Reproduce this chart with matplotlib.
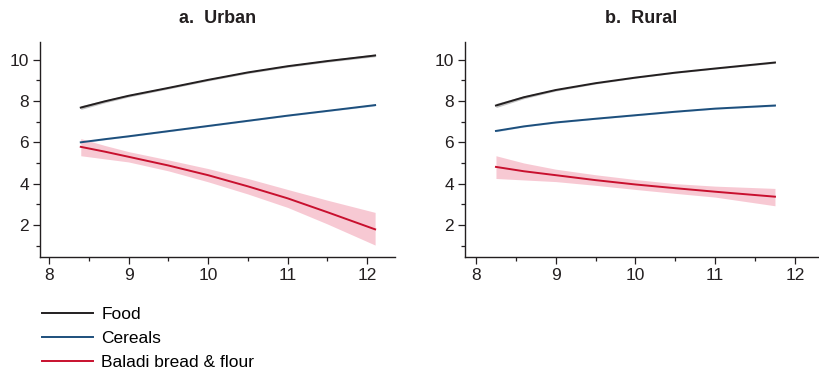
import numpy as np
import matplotlib
matplotlib.use("Agg")
import matplotlib.pyplot as plt
from matplotlib.ticker import MultipleLocator

plt.rcParams['font.family'] = ['Liberation Sans', 'DejaVu Sans']

BLACK = "#231f20"
BLUE = "#1d4f7c"
RED = "#c8102e"
PINK = "#f7c3cf"
GREY_BAND = "#9a9a9a"
BLUE_BAND = "#8fb3d9"

labels = ["Food", "Cereals", "Baladi bread & flour"]

# Panel a: Urban
urban_x = [8.4, 8.7, 9.0, 9.5, 10.0, 10.5, 11.0, 11.5, 12.1]
urban_food = [7.68, 7.98, 8.25, 8.63, 9.02, 9.38, 9.68, 9.93, 10.20]
urban_food_lo = [7.59, 7.91, 8.19, 8.58, 8.97, 9.33, 9.63, 9.88, 10.14]
urban_food_hi = [7.77, 8.05, 8.31, 8.68, 9.07, 9.43, 9.73, 9.99, 10.27]
urban_cereals = [6.00, 6.15, 6.29, 6.54, 6.79, 7.04, 7.29, 7.52, 7.80]
urban_cereals_lo = [5.96, 6.12, 6.26, 6.51, 6.76, 7.01, 7.26, 7.49, 7.76]
urban_cereals_hi = [6.04, 6.18, 6.32, 6.57, 6.82, 7.07, 7.32, 7.56, 7.85]
urban_bread = [5.78, 5.55, 5.30, 4.88, 4.41, 3.87, 3.29, 2.62, 1.79]
urban_bread_lo = [5.35, 5.20, 5.05, 4.62, 4.09, 3.50, 2.85, 2.05, 1.03]
urban_bread_hi = [6.18, 5.85, 5.55, 5.15, 4.73, 4.25, 3.72, 3.20, 2.61]

# Panel b: Rural
rural_x = [8.25, 8.6, 9.0, 9.5, 10.0, 10.5, 11.0, 11.75]
rural_food = [7.78, 8.18, 8.53, 8.86, 9.13, 9.37, 9.57, 9.86]
rural_food_lo = [7.68, 8.11, 8.48, 8.82, 9.10, 9.34, 9.54, 9.82]
rural_food_hi = [7.88, 8.25, 8.58, 8.90, 9.16, 9.40, 9.60, 9.90]
rural_cereals = [6.55, 6.77, 6.96, 7.14, 7.31, 7.48, 7.63, 7.78]
rural_cereals_lo = [6.51, 6.74, 6.93, 7.11, 7.28, 7.45, 7.60, 7.74]
rural_cereals_hi = [6.59, 6.80, 6.99, 7.17, 7.34, 7.51, 7.66, 7.82]
rural_bread = [4.81, 4.60, 4.41, 4.17, 3.96, 3.78, 3.61, 3.37]
rural_bread_lo = [4.25, 4.18, 4.10, 3.92, 3.72, 3.53, 3.35, 2.93]
rural_bread_hi = [5.35, 5.00, 4.70, 4.43, 4.20, 4.00, 3.88, 3.77]

fig = plt.figure(figsize=(8.19, 3.72), dpi=100)
ax_a = fig.add_axes([0.0488, 0.309, 0.4335, 0.578])
ax_b = fig.add_axes([0.5678, 0.309, 0.4310, 0.578])


def draw_panel(ax, x, series, title, xlim):
    bands = [GREY_BAND, BLUE_BAND, PINK]
    colors = [BLACK, BLUE, RED]
    for (mid, lo, hi), c, bc, lab in zip(series, colors, bands, labels):
        ax.fill_between(x, lo, hi, color=bc, alpha=0.9 if bc == PINK else 0.6,
                        linewidth=0)
        ax.plot(x, mid, color=c, linewidth=1.4, label=lab)
    ax.set_xlim(*xlim)
    ax.set_ylim(0.45, 10.85)
    ax.xaxis.set_major_locator(MultipleLocator(1))
    ax.xaxis.set_minor_locator(MultipleLocator(0.5))
    ax.yaxis.set_minor_locator(MultipleLocator(1))
    ax.set_yticks([2, 4, 6, 8, 10])
    for s in ["top", "right"]:
        ax.spines[s].set_visible(False)
    for s in ["left", "bottom"]:
        ax.spines[s].set_color(BLACK)
        ax.spines[s].set_linewidth(1.0)
    ax.tick_params(which="major", direction="out", length=5, width=0.9,
                   labelsize=12.5, colors=BLACK, pad=3)
    ax.tick_params(which="minor", direction="out", length=3, width=0.9,
                   colors=BLACK)
    ax.set_title(title, fontsize=13, fontweight="bold", color=BLACK, pad=14)


draw_panel(ax_a, urban_x,
           [(urban_food, urban_food_lo, urban_food_hi),
            (urban_cereals, urban_cereals_lo, urban_cereals_hi),
            (urban_bread, urban_bread_lo, urban_bread_hi)],
           "a.  Urban", (7.887, 12.35))
draw_panel(ax_b, rural_x,
           [(rural_food, rural_food_lo, rural_food_hi),
            (rural_cereals, rural_cereals_lo, rural_cereals_hi),
            (rural_bread, rural_bread_lo, rural_bread_hi)],
           "b.  Rural", (7.862, 12.29))

handles, labs = ax_a.get_legend_handles_labels()
fig.legend(handles, labs, loc="upper left", bbox_to_anchor=(0.0515, 0.174),
           frameon=False, fontsize=12.5, handlelength=2.95, handletextpad=0.45,
           labelspacing=0.5, borderpad=0, borderaxespad=0)

fig.savefig("out.png", dpi=100)
